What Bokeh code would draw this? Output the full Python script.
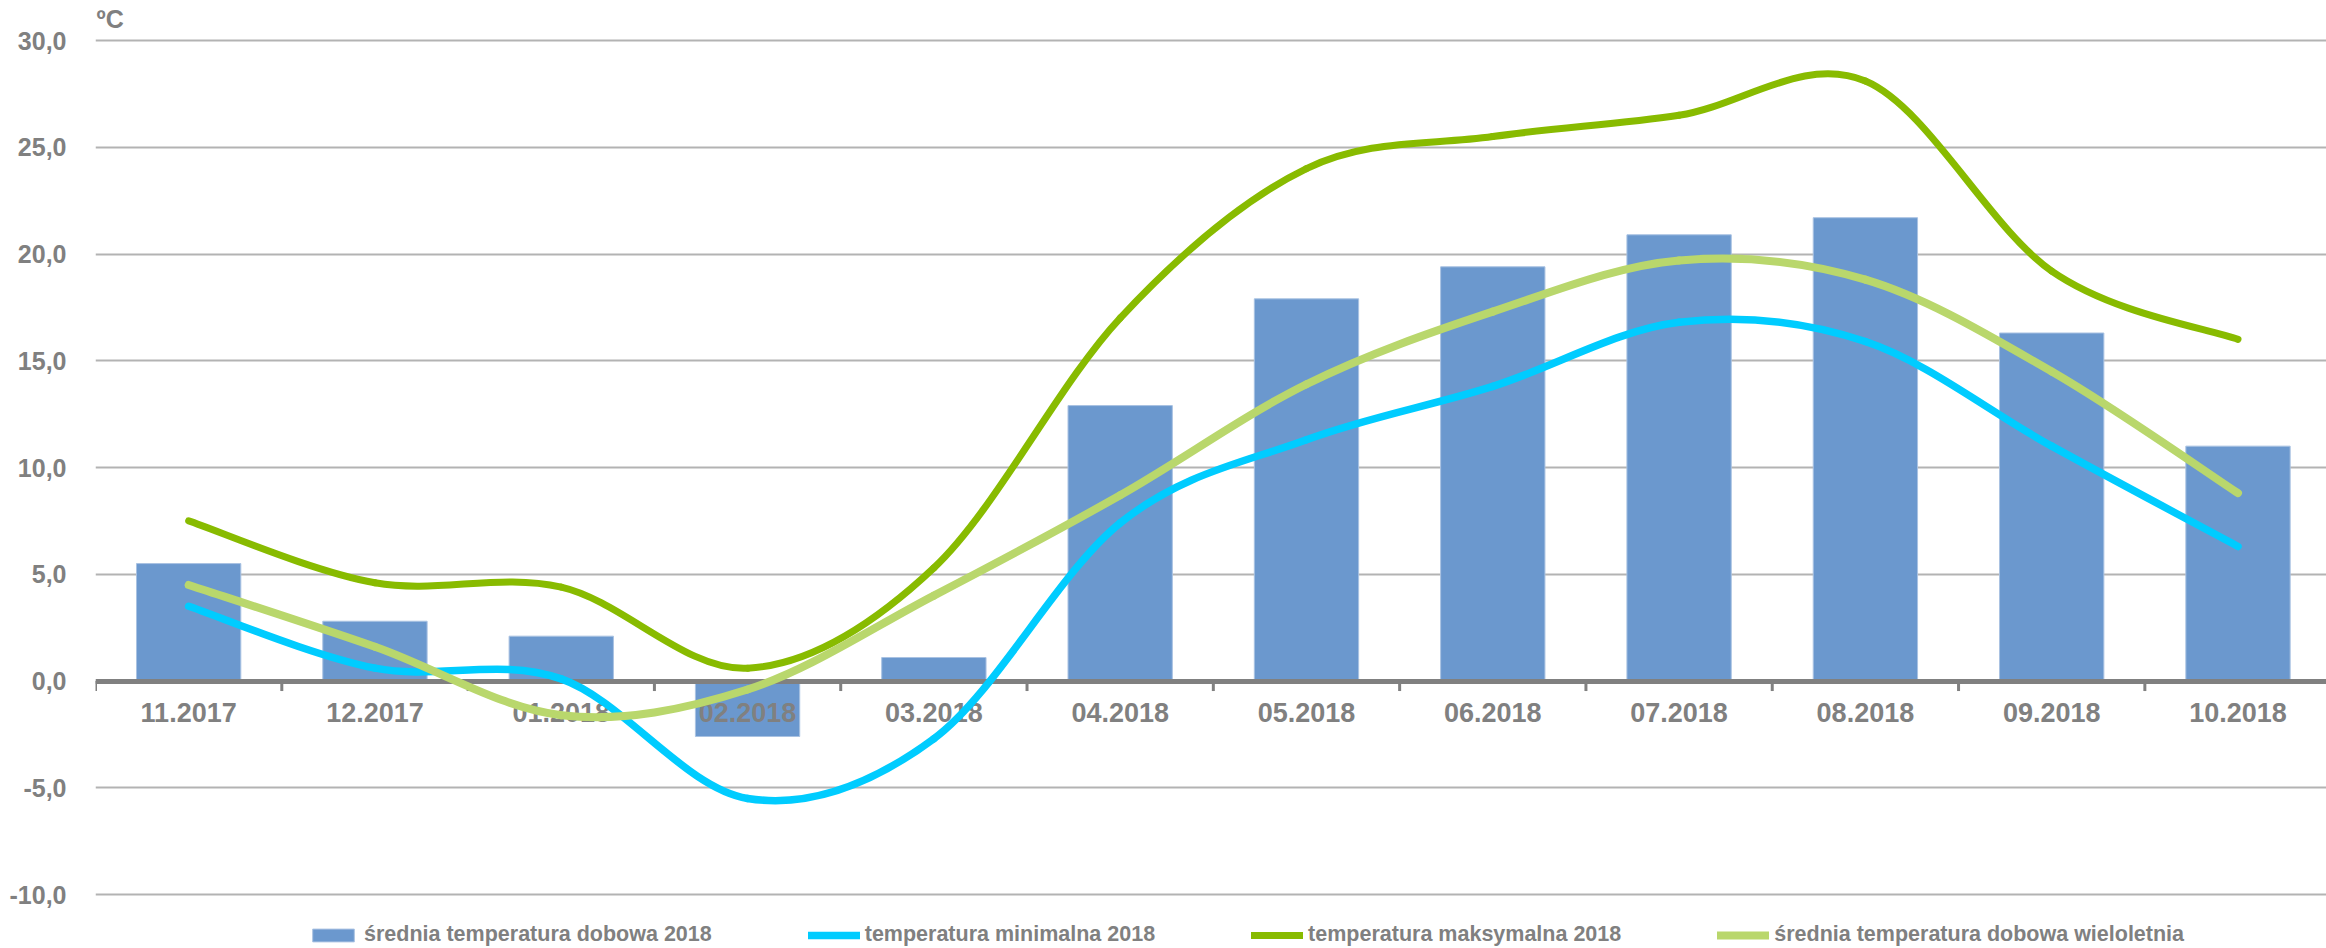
import numpy as np
from bokeh.plotting import figure
from bokeh.models import Range1d, Legend, LegendItem, Label, FixedTicker, ColumnDataSource
from bokeh.embed import file_html
from bokeh.resources import INLINE
from bokeh.core.properties import value

# ---------------- data ----------------
categories = ["11.2017", "12.2017", "01.2018", "02.2018", "03.2018", "04.2018",
              "05.2018", "06.2018", "07.2018", "08.2018", "09.2018", "10.2018"]
srednia_2018 = [5.5, 2.8, 2.1, -2.6, 1.1, 12.9, 17.9, 19.4, 20.9, 21.7, 16.3, 11.0]
minimalna_2018 = [3.5, 0.6, 0.1, -5.5, -2.7, 7.4, 11.3, 13.8, 16.8, 15.9, 11.0, 6.3]
maksymalna_2018 = [7.5, 4.6, 4.4, 0.6, 5.3, 17.0, 24.0, 25.5, 26.5, 28.1, 19.2, 16.0]
srednia_wieloletnia = [4.5, 1.6, -1.6, -0.4, 4.0, 8.7, 13.9, 17.3, 19.7, 18.8, 14.5, 8.8]

y_ticks = [-10, -5, 0, 5, 10, 15, 20, 25, 30]
y_tick_labels = ["-10,0", "-5,0", "0,0", "5,0", "10,0", "15,0", "20,0", "25,0", "30,0"]
legend_labels = ["średnia temperatura dobowa 2018", "temperatura minimalna 2018",
                 "temperatura maksymalna 2018", "średnia temperatura dobowa wieloletnia"]
unit_label = "ºC"

# ---------------- styles ----------------
GRAY_TXT = "#808080"
FONT_NAME = "Liberation Sans"
BAR_COLOR = "#6B98CE"
C_MIN = "#00CCFF"
C_MAX = "#88BB00"
C_WIELO = "#B9D76C"

W, H = 2326, 948
LEFT = 95
# vertical mapping: 30 at 40px, -10 at 894px from the top of the figure
PX_PER_UNIT = (894 - 40) / 40.0
Y_END = 30 + 40 / PX_PER_UNIT
Y_START = -10 - (H - 894) / PX_PER_UNIT

p = figure(width=W, height=H, output_backend="svg", toolbar_location=None,
           x_range=Range1d(-0.5, 11.475), y_range=Range1d(Y_START, Y_END),
           x_axis_location=None,
           min_border_left=LEFT, min_border_right=0, min_border_top=0, min_border_bottom=0)
p.outline_line_color = None
p.background_fill_color = "white"
p.border_fill_color = "white"

yax = p.yaxis[0]
yax.ticker = FixedTicker(ticks=y_ticks)
yax.major_label_overrides = {t: l for t, l in zip(y_ticks, y_tick_labels)}
yax.axis_line_color = None
yax.major_tick_line_color = None
yax.minor_tick_line_color = None
yax.major_label_standoff = 23
yax.major_label_text_font = FONT_NAME
yax.major_label_text_font_size = "25px"
yax.major_label_text_font_style = "bold"
yax.major_label_text_color = GRAY_TXT

p.ygrid.ticker = FixedTicker(ticks=y_ticks)
p.ygrid.grid_line_color = "#B3B3B3"
p.ygrid.grid_line_width = 2
p.xgrid.visible = False

idx = np.arange(len(categories))

# bars
bars = p.vbar(x=idx, top=srednia_2018, bottom=0, width=0.56,
              fill_color=BAR_COLOR, line_color="#A9C2E2", line_width=1)

# zero axis line, ticks at category boundaries
p.hspan(y=[0], line_color="#808080", line_width=5)
bounds = np.arange(len(categories) + 1) - 0.5
p.segment(x0=bounds, y0=np.zeros_like(bounds), x1=bounds, y1=np.full_like(bounds, -0.47),
          line_color="#808080", line_width=3)

# category labels under the zero line
p.text(x=idx, y=np.zeros(len(idx)), text=categories, y_offset=31,
       text_align="center", text_baseline="middle", text_font=value(FONT_NAME),
       text_font_size="27px", text_font_style="bold", text_color=GRAY_TXT)


def smooth_segments(vals):
    """Bezier segments (Catmull-Rom style, like spreadsheet 'smoothed line')."""
    x = idx.astype(float)
    y = np.asarray(vals, dtype=float)
    n = len(y)
    xp = np.concatenate([[x[0]], x, [x[-1]]])
    yp = np.concatenate([[y[0]], y, [y[-1]]])
    d = dict(x0=[], y0=[], x1=[], y1=[], cx0=[], cy0=[], cx1=[], cy1=[])
    for i in range(n - 1):
        j = i + 1
        d["x0"].append(x[i]); d["y0"].append(y[i])
        d["x1"].append(x[i + 1]); d["y1"].append(y[i + 1])
        d["cx0"].append(x[i] + (xp[j + 1] - xp[j - 1]) / 6)
        d["cy0"].append(y[i] + (yp[j + 1] - yp[j - 1]) / 6)
        d["cx1"].append(x[i + 1] - (xp[j + 2] - xp[j]) / 6)
        d["cy1"].append(y[i + 1] - (yp[j + 2] - yp[j]) / 6)
    return ColumnDataSource(d)


BZ = dict(x0="x0", y0="y0", x1="x1", y1="y1", cx0="cx0", cy0="cy0", cx1="cx1", cy1="cy1")
r_min = p.bezier(**BZ, source=smooth_segments(minimalna_2018), line_color=C_MIN,
                 line_width=7.5, line_cap="round")
r_max = p.bezier(**BZ, source=smooth_segments(maksymalna_2018), line_color=C_MAX,
                 line_width=7, line_cap="round")
r_wie = p.bezier(**BZ, source=smooth_segments(srednia_wieloletnia), line_color=C_WIELO,
                 line_width=8, line_cap="round")

# unit label at the top-left of the plot area
p.add_layout(Label(x=-0.5, y=30, text=unit_label, text_align="left", text_baseline="bottom",
                   y_offset=8, x_offset=1, text_font=FONT_NAME, text_font_size="25px",
                   text_font_style="bold", text_color=GRAY_TXT))

legend = Legend(items=[LegendItem(label=legend_labels[0], renderers=[bars]),
                       LegendItem(label=legend_labels[1], renderers=[r_min]),
                       LegendItem(label=legend_labels[2], renderers=[r_max]),
                       LegendItem(label=legend_labels[3], renderers=[r_wie])],
                orientation="horizontal", location=(212, 1), spacing=96,
                glyph_width=52, glyph_height=16, label_standoff=5,
                padding=0, margin=0, border_line_color=None, background_fill_alpha=0,
                label_text_font=FONT_NAME, label_text_font_size="21.5px",
                label_text_font_style="bold", label_text_color=GRAY_TXT)
p.add_layout(legend, "center")

open("out.html", "w").write(file_html(p, INLINE))
